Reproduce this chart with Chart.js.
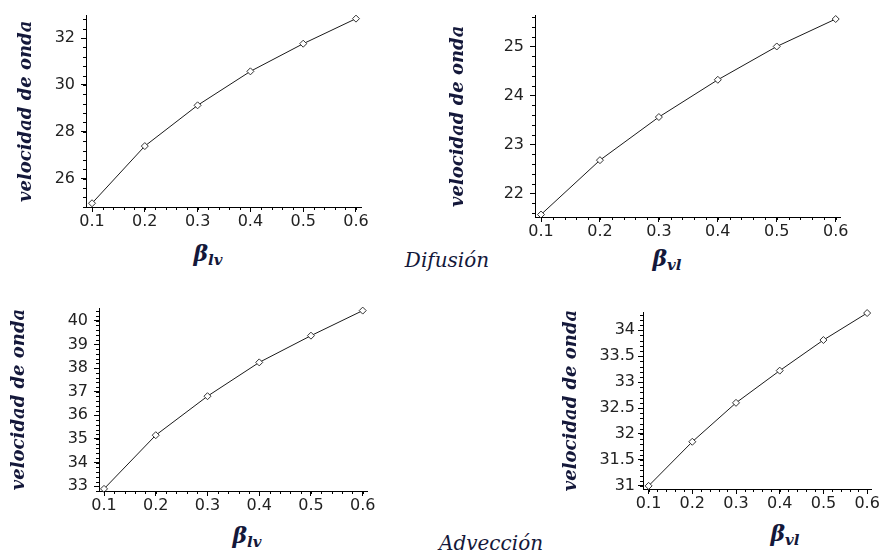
<!DOCTYPE html>
<html>
<head>
<meta charset="utf-8">
<script src="https://cdn.jsdelivr.net/npm/chart.js@4"></script>
<style>
  body { margin: 0; background: #fff; }
  #page { position: relative; width: 880px; height: 553px; overflow: hidden; }
  canvas { position: absolute; }
  .xtitle {
    position: absolute; transform: translate(-50%, -50%);
    font-family: "DejaVu Serif", serif; font-weight: bold; font-style: italic;
    font-size: 22px; color: #14183a; line-height: 1; white-space: nowrap;
  }
  .xtitle sub { font-size: 15px; vertical-align: -4px; }
  .group {
    position: absolute; transform: translate(-50%, -50%);
    font-family: "DejaVu Serif", serif; font-style: italic;
    font-size: 20px; color: #14183a; line-height: 1; white-space: nowrap;
  }
</style>
</head>
<body>
<div id="page">
  <canvas id="c1" width="380" height="240" style="left:0;top:0"></canvas>
  <canvas id="c2" width="440" height="240" style="left:440px;top:0"></canvas>
  <canvas id="c3" width="390" height="230" style="left:0;top:290px"></canvas>
  <canvas id="c4" width="340" height="230" style="left:540px;top:290px"></canvas>

  <div class="xtitle" style="left:208px;top:255px">β<sub>lv</sub></div>
  <div class="xtitle" style="left:667px;top:260px">β<sub>vl</sub></div>
  <div class="xtitle" style="left:247px;top:537px">β<sub>lv</sub></div>
  <div class="xtitle" style="left:785px;top:535px">β<sub>vl</sub></div>

  <div class="group" style="left:447px;top:260px">Difusión</div>
  <div class="group" style="left:491px;top:543px">Advección</div>
</div>

<script>
// beta values (x) shared by the four panels
const betaValues = [0.1, 0.2, 0.3, 0.4, 0.5, 0.6]

// velocidad de onda
const difusionLv = [24.95, 27.39, 29.13, 30.58, 31.76, 32.83]
const difusionVl = [21.57, 22.68, 23.56, 24.32, 25.0, 25.56]
const adveccionLv = [32.89, 35.16, 36.81, 38.24, 39.37, 40.43]
const adveccionVl = [31.0, 31.85, 32.6, 33.22, 33.81, 34.33]

// axis ranges and tick steps [min, max, major, minor]
const xRange1 = [0.0886, 0.6095, 0.1, 0.02]
const xRange2 = [0.0898, 0.6073, 0.1, 0.02]
const xRange3 = [0.0903, 0.6083, 0.1, 0.02]
const xRange4 = [0.0872, 0.6091, 0.1, 0.02]
const yRange1 = [24.79, 32.96, 2, 0.4]
const yRange2 = [21.52, 25.63, 1, 0.2]
const yRange3 = [32.8, 40.54, 1, 0.2]
const yRange4 = [30.94, 34.35, 0.5, 0.1]

const yTitle = "velocidad de onda"

// Maple-style small ticks between the labelled ones
const minorTicks = {
  id: "minorTicks",
  afterDraw(chart) {
    const ctx = chart.ctx
    const { x, y } = chart.scales
    ctx.save()
    ctx.strokeStyle = "#000"
    ctx.lineWidth = 1
    ctx.beginPath()
    const xr = chart.options.plugins.minorTicks.x
    const yr = chart.options.plugins.minorTicks.y
    for (let i = Math.ceil(xr[0] / xr[3] - 1e-9); i * xr[3] <= xr[1] + 1e-9; i++) {
      const px = Math.round(x.getPixelForValue(i * xr[3])) + 0.5
      ctx.moveTo(px, x.top)
      ctx.lineTo(px, x.top + 3)
    }
    for (let i = Math.ceil(yr[0] / yr[3] - 1e-9); i * yr[3] <= yr[1] + 1e-9; i++) {
      const py = Math.round(y.getPixelForValue(i * yr[3])) + 0.5
      ctx.moveTo(y.right, py)
      ctx.lineTo(y.right - 3, py)
    }
    ctx.stroke()
    ctx.restore()
  }
}

function decimals(step) {
  return step < 1 ? 1 : 0
}

function makeChart(id, values, xr, yr, box) {
  const points = betaValues.map((b, i) => ({ x: b, y: values[i] }))
  return new Chart(document.getElementById(id), {
    type: "scatter",
    data: {
      datasets: [{
        data: points,
        showLine: true,
        borderColor: "#1a1a1a",
        borderWidth: 1,
        pointStyle: "rectRot",
        pointRadius: 3.5,
        pointBackgroundColor: "#fff",
        pointBorderColor: "#333",
        pointBorderWidth: 1,
        clip: false,
      }]
    },
    options: {
      responsive: false,
      animation: false,
      devicePixelRatio: 1,
      layout: { padding: { top: box.top, right: box.right, left: 0, bottom: 0 } },
      plugins: {
        legend: { display: false },
        tooltip: { enabled: false },
        minorTicks: { x: xr, y: yr },
      },
      scales: {
        x: {
          type: "linear",
          min: xr[0],
          max: xr[1],
          afterFit: (s) => { s.height = box.xh },
          grid: { drawOnChartArea: false, tickLength: 5, tickColor: "#000" },
          border: { color: "#000", width: 1 },
          ticks: {
            stepSize: xr[2],
            includeBounds: false,
            autoSkip: false,
            maxRotation: 0,
            padding: 0,
            color: "#222",
            font: { family: "DejaVu Sans", size: 16 },
            callback: (v) => v.toFixed(1),
          },
        },
        y: {
          type: "linear",
          min: yr[0],
          max: yr[1],
          afterFit: (s) => { s.width = box.yw },
          grid: { drawOnChartArea: false, tickLength: 5, tickColor: "#000" },
          border: { color: "#000", width: 1 },
          ticks: {
            stepSize: yr[2],
            includeBounds: false,
            autoSkip: false,
            padding: box.lp,
            color: "#222",
            font: { family: "DejaVu Sans", size: 16 },
            callback: (v) => v.toFixed(yr[2] < 1 ? 1 : 0).replace(/\.0$/, ""),
          },
          title: {
            display: true,
            text: yTitle,
            color: "#14183a",
            padding: { top: box.tp, bottom: 0 },
            font: { family: "DejaVu Serif", size: 18, weight: "bold", style: "italic" },
          },
        },
      },
    },
    plugins: [minorTicks],
  })
}

makeChart("c1", difusionLv, xRange1, yRange1, { top: 12, right: 19, xh: 33, yw: 86, lp: 6, tp: 16 })
makeChart("c2", difusionVl, xRange2, yRange2, { top: 15, right: 40, xh: 23, yw: 95, lp: 6, tp: 8 })
makeChart("c3", adveccionLv, xRange3, yRange3, { top: 18, right: 23, xh: 29, yw: 99, lp: 6, tp: 9 })
makeChart("c4", adveccionVl, xRange4, yRange4, { top: 22, right: 8, xh: 31, yw: 103, lp: 3, tp: 21 })
</script>
</body>
</html>
